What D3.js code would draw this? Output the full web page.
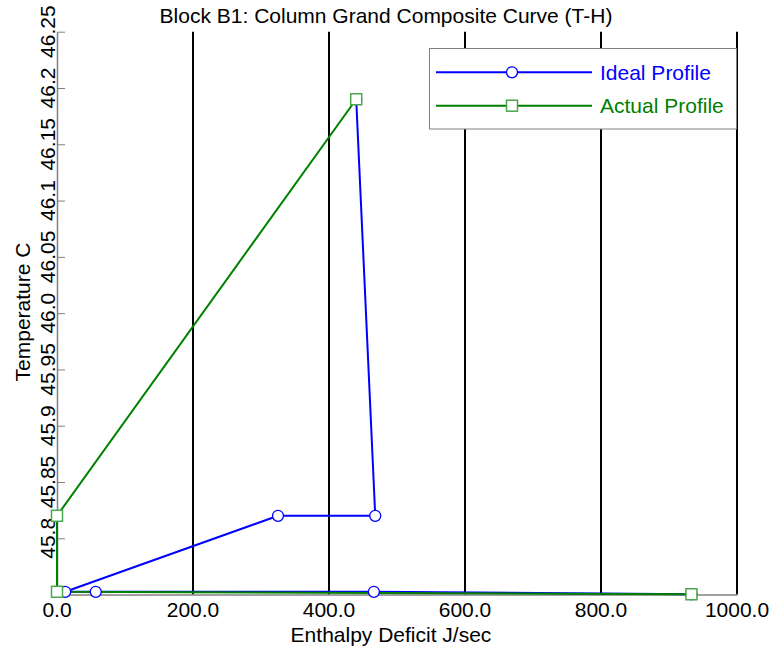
<!DOCTYPE html>
<html>
<head>
<meta charset="utf-8">
<script src="https://cdn.jsdelivr.net/npm/d3@7"></script>
<style>
  html, body { margin: 0; padding: 0; background: #fff; }
  svg { display: block; font-family: Arial, "Liberation Sans", sans-serif; }
</style>
</head>
<body>
<svg id="chart" width="773" height="653"></svg>
<script>
// Column grand composite curve data (enthalpy deficit in J/sec, temperature in C)
const idealEnthalpy = [933, 466, 57, 12, 325, 468, 440];
const idealTemp     = [45.7503, 45.7525, 45.7525, 45.7525, 45.82, 45.82, 46.19];
const actualEnthalpy = [933, 0, 0, 440];
const actualTemp     = [45.7503, 45.7525, 45.82, 46.19];

const xTicks = [0, 200, 400, 600, 800, 1000];
const xTickLabels = ["0.0", "200.0", "400.0", "600.0", "800.0", "1000.0"];
const yTicks = [45.8, 45.85, 45.9, 45.95, 46.0, 46.05, 46.1, 46.15, 46.2, 46.25];
const yTickLabels = ["45.8", "45.85", "45.9", "45.95", "46.0", "46.05", "46.1", "46.15", "46.2", "46.25"];
const seriesNames = ["Ideal Profile", "Actual Profile"];

const BLUE = "#0000ff", GREEN = "#008000", SQUARE_STROKE = "#4ca64c";
const FONT = 21;

const svg = d3.select("#chart");
const plotLeft = 57, plotRight = 737, plotTop = 31.7, plotBottom = 594.6;

const x = d3.scaleLinear().domain([0, 1000]).range([plotLeft, plotRight]);
const y = d3.scaleLinear().domain([45.75, 46.25]).range([plotBottom, plotTop]);

// title
svg.append("text")
  .attr("x", 386).attr("y", 23)
  .attr("text-anchor", "middle")
  .attr("font-size", FONT)
  .attr("fill", "#000")
  .text("Block B1: Column Grand Composite Curve (T-H)");

// vertical grid lines and right border
svg.append("g")
  .selectAll("line")
  .data(xTicks.slice(1))
  .join("line")
  .attr("x1", d => x(d)).attr("x2", d => x(d))
  .attr("y1", plotTop).attr("y2", plotBottom)
  .attr("stroke", "#000").attr("stroke-width", 2);

// left axis with inward ticks
const yAxis = d3.axisLeft(y).tickValues(yTicks).tickSize(-8).tickSizeOuter(0).tickFormat("");
const gy = svg.append("g").attr("transform", `translate(${plotLeft},0)`).call(yAxis);
gy.select(".domain").attr("stroke", "#808080").attr("stroke-width", 1.5);
gy.selectAll(".tick line").attr("stroke", "#808080").attr("stroke-width", 1);

// bottom axis line
const xAxis = d3.axisBottom(x).tickValues(xTicks).tickSize(0).tickSizeOuter(0).tickFormat("");
const gx = svg.append("g").attr("transform", `translate(0,${plotBottom})`).call(xAxis);
gx.select(".domain").attr("stroke", "#808080").attr("stroke-width", 1.5);

// y tick labels, rotated
svg.append("g")
  .selectAll("text")
  .data(yTicks)
  .join("text")
  .attr("transform", (d) => `translate(54.5,${y(d)}) rotate(-90)`)
  .attr("text-anchor", "middle")
  .attr("font-size", FONT)
  .attr("fill", "#000")
  .text((d, i) => yTickLabels[i]);

// x tick labels
svg.append("g")
  .selectAll("text")
  .data(xTicks)
  .join("text")
  .attr("x", d => x(d)).attr("y", 617)
  .attr("text-anchor", "middle")
  .attr("font-size", FONT)
  .attr("fill", "#000")
  .text((d, i) => xTickLabels[i]);

// axis titles
svg.append("text")
  .attr("transform", "translate(29.5,312) rotate(-90)")
  .attr("text-anchor", "middle")
  .attr("font-size", FONT)
  .text("Temperature C");

svg.append("text")
  .attr("x", 391).attr("y", 642)
  .attr("text-anchor", "middle")
  .attr("font-size", FONT)
  .text("Enthalpy Deficit J/sec");

// series
const ideal = idealEnthalpy.map((h, i) => [h, idealTemp[i]]);
const actual = actualEnthalpy.map((h, i) => [h, actualTemp[i]]);
const line = d3.line().x(d => x(d[0])).y(d => y(d[1]));

svg.append("path").datum(ideal)
  .attr("d", line).attr("fill", "none")
  .attr("stroke", BLUE).attr("stroke-width", 2);

svg.append("path").datum(actual)
  .attr("d", line).attr("fill", "none")
  .attr("stroke", GREEN).attr("stroke-width", 2);

svg.append("g").selectAll("circle")
  .data(ideal)
  .join("circle")
  .attr("cx", d => x(d[0])).attr("cy", d => y(d[1]))
  .attr("r", 5.5)
  .attr("fill", "#fff").attr("stroke", BLUE).attr("stroke-width", 1.3);

svg.append("g").selectAll("rect")
  .data(actual)
  .join("rect")
  .attr("x", d => x(d[0]) - 5.5).attr("y", d => y(d[1]) - 5.5)
  .attr("width", 11).attr("height", 11)
  .attr("fill", "#fff").attr("stroke", SQUARE_STROKE).attr("stroke-width", 1.5);

// legend
const legend = svg.append("g");
legend.append("rect")
  .attr("x", 429.5).attr("y", 48.5).attr("width", 307).attr("height", 80.5)
  .attr("fill", "#fff").attr("stroke", "#808080").attr("stroke-width", 1);

const legendRows = [
  { name: seriesNames[0], color: BLUE, y: 72.3, marker: "circle" },
  { name: seriesNames[1], color: GREEN, y: 105.7, marker: "square" }
];
legendRows.forEach(r => {
  legend.append("line")
    .attr("x1", 436).attr("x2", 592).attr("y1", r.y).attr("y2", r.y)
    .attr("stroke", r.color).attr("stroke-width", 2);
  if (r.marker === "circle") {
    legend.append("circle").attr("cx", 512).attr("cy", r.y).attr("r", 5.5)
      .attr("fill", "#fff").attr("stroke", BLUE).attr("stroke-width", 1.3);
  } else {
    legend.append("rect").attr("x", 512 - 5.5).attr("y", r.y - 5.5)
      .attr("width", 11).attr("height", 11)
      .attr("fill", "#fff").attr("stroke", SQUARE_STROKE).attr("stroke-width", 1.5);
  }
  legend.append("text")
    .attr("x", 600).attr("y", r.y + 7.5)
    .attr("font-size", FONT)
    .attr("fill", r.color)
    .text(r.name);
});
</script>
</body>
</html>
